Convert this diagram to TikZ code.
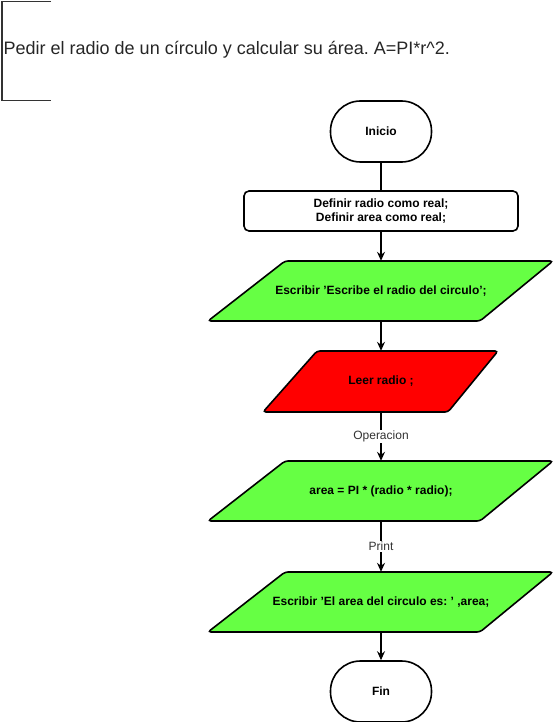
\documentclass[tikz,border=0pt]{standalone}
\usepackage{fontspec}
\setmainfont{Liberation Sans}
\usetikzlibrary{arrows.meta,calc}
\definecolor{fgreen}{HTML}{66FF44}
\definecolor{fred}{HTML}{FF0000}
\definecolor{lblgray}{HTML}{333333}
\frenchspacing
\begin{document}
\begin{tikzpicture}[x=1pt,y=-1pt,
  shapeline/.style={draw=black,line width=1.6pt},
  nodefont/.style={font=\fontsize{12}{14}\selectfont\bfseries},
  term/.style={shapeline,rounded corners=30pt,minimum width=101pt,minimum height=61pt,inner sep=0pt,nodefont},
  procbox/.style={shapeline,rounded corners=5pt,minimum width=274pt,minimum height=40pt,inner sep=0pt,align=center,nodefont},
  paratext/.style={minimum height=60pt,minimum width=100pt,inner sep=0pt,nodefont},
  parafill/.style={shapeline,rounded corners=3pt},
  conn/.style={line width=1.2pt,draw=black},
  arr/.style={conn,-{Stealth[length=9pt,width=8pt,inset=3pt]}},
  elabel/.style={fill=white,text=lblgray,inner sep=1pt,font=\fontsize{12}{14}\selectfont}
]
\useasboundingbox (0,0) rectangle (557,722);
% annotation bracket
\draw[line width=1.6pt,draw=lblgray] (51,1.5) -- (2,1.5) -- (2,100.5) -- (51,100.5);
\node[anchor=west,inner sep=0pt,font=\fontsize{18}{21}\selectfont,text=black!85] (title) at (3.5,50) {Pedir el radio de un círculo y calcular su área. A=PI*r\^{}2.};
% shapes
\node[term] (ini) at (381,131.5) {Inicio};
\node[procbox] (def) at (381,211) {Definir radio como real;\\Definir area como real;};
% P1
\path[parafill,fill=fgreen] (285,261) -- (553,261) -- (480,321) -- (208,321) -- cycle;
\node[paratext] (p1) at (381,291) {Escribir 'Escribe el radio del circulo';};
% P2
\path[parafill,fill=fred] (317,351) -- (498,351) -- (448,412) -- (263,412) -- cycle;
\node[paratext,minimum height=61pt] (p2) at (381,381.5) {Leer radio ;};
% P3
\path[parafill,fill=fgreen] (285,461) -- (553,461) -- (480,521) -- (208,521) -- cycle;
\node[paratext] (p3) at (381,491) {area = PI * (radio * radio);};
% P4
\path[parafill,fill=fgreen] (285,572) -- (553,572) -- (480,632) -- (208,632) -- cycle;
\node[paratext] (p4) at (381,602) {Escribir 'El area del circulo es: ' ,area;};
\node[term] (fin) at (381,691.5) {Fin};
% connectors
\draw[conn] (ini.south) -- (def.north);
\draw[arr] (def.south) -- (p1.north);
\draw[arr] (p1.south) -- (p2.north);
\draw[arr] (p2.south) -- node[elabel,pos=0.5] (l1) {Operacion} (p3.north);
\draw[arr] (p3.south) -- node[elabel,pos=0.5] (l2) {Print} (p4.north);
\draw[arr] (p4.south) -- (fin.north);
\end{tikzpicture}
\end{document}
